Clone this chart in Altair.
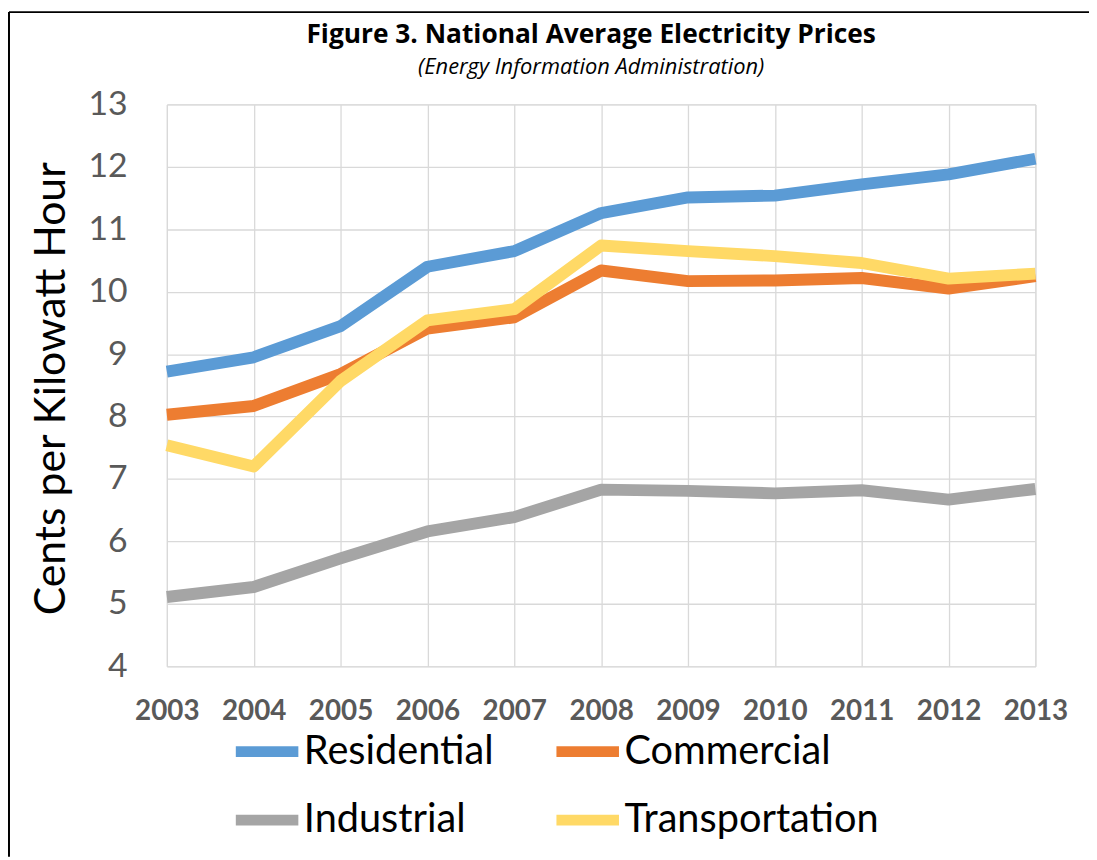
import altair as alt
import pandas as pd

years = [2003, 2004, 2005, 2006, 2007, 2008, 2009, 2010, 2011, 2012, 2013]
residential = [8.72, 8.95, 9.45, 10.40, 10.65, 11.26, 11.51, 11.54, 11.72, 11.88, 12.13]
commercial = [8.03, 8.17, 8.68, 9.41, 9.59, 10.34, 10.17, 10.18, 10.22, 10.05, 10.25]
industrial = [5.11, 5.27, 5.73, 6.16, 6.39, 6.83, 6.81, 6.77, 6.82, 6.67, 6.84]
transportation = [7.54, 7.20, 8.57, 9.54, 9.72, 10.74, 10.65, 10.57, 10.46, 10.21, 10.29]

series_names = ["Residential", "Commercial", "Industrial", "Transportation"]
series_colors = ["#5B9BD5", "#ED7D31", "#A5A5A5", "#FFD966"]
y_ticks = [4, 5, 6, 7, 8, 9, 10, 11, 12, 13]

rows = []
for name, vals in zip(series_names, [residential, commercial, industrial, transportation]):
    for yr, v in zip(years, vals):
        rows.append({"year": yr, "price": v, "series": name})
df = pd.DataFrame(rows)

lines = alt.Chart(df).mark_line(strokeWidth=12, strokeJoin="round", strokeCap="butt").encode(
    x=alt.X(
        "year:O",
        scale=alt.Scale(type="point", padding=0),
        axis=alt.Axis(
            title=None, labelAngle=0, labelFont="Lato", labelFontSize=28,
            labelFontWeight="bold", labelColor="#595959", labelPadding=32,
            ticks=False, domain=False, grid=True, gridColor="#D9D9D9", gridWidth=1.3,
        ),
    ),
    y=alt.Y(
        "price:Q",
        scale=alt.Scale(domain=[4, 13], nice=False, zero=False),
        axis=alt.Axis(
            values=y_ticks, title="Cents per Kilowatt Hour", titleFont="Lato",
            titleFontSize=43, titleFontWeight="normal", titleColor="black",
            titleAngle=270, titleX=-103, titleY=286, titleAlign="center",
            titleBaseline="alphabetic",
            labelFont="Lato", labelFontSize=34, labelColor="#595959", labelPadding=40,
            ticks=False, domain=False, grid=True, gridColor="#D9D9D9", gridWidth=1.3,
        ),
    ),
    color=alt.Color(
        "series:N",
        scale=alt.Scale(domain=series_names, range=series_colors),
        legend=alt.Legend(
            title=None, orient="none", direction="horizontal", legendX=64, legendY=615,
            columns=2, symbolType="stroke", symbolSize=3969, symbolStrokeWidth=11,
            labelFont="Lato", labelFontSize=40, labelColor="black",
            columnPadding=40, rowPadding=10, labelOffset=0, padding=0, labelLimit=400,
        ),
    ),
    detail="series:N",
)

frame_df = pd.DataFrame({"k": [0]})
top_rule = alt.Chart(frame_df).mark_rule(color="black", strokeWidth=2).encode(
    x=alt.value(-159), x2=alt.value(929), y=alt.value(-93)
)
left_rule = alt.Chart(frame_df).mark_rule(color="black", strokeWidth=2).encode(
    x=alt.value(-159), y=alt.value(-93), y2=alt.value(758)
)

chart = alt.layer(lines, top_rule, left_rule).properties(
    width=875,
    height=566,
    autosize="none",
    padding={"left": 160, "top": 94, "right": 54, "bottom": 192},
    title=alt.TitleParams(
        text="Figure 3. National Average Electricity Prices",
        subtitle="(Energy Information Administration)",
        anchor="middle", frame="group", dx=-10, offset=-67,
        font="Open Sans", fontSize=26.5, fontWeight="bold", color="black",
        subtitleFont="Open Sans", subtitleFontSize=22, subtitleFontStyle="italic",
        subtitleColor="black", subtitlePadding=8,
    ),
).configure_view(strokeWidth=0).configure(background="white")

chart.save("out.html", embed_options={"renderer": "svg", "actions": False})
